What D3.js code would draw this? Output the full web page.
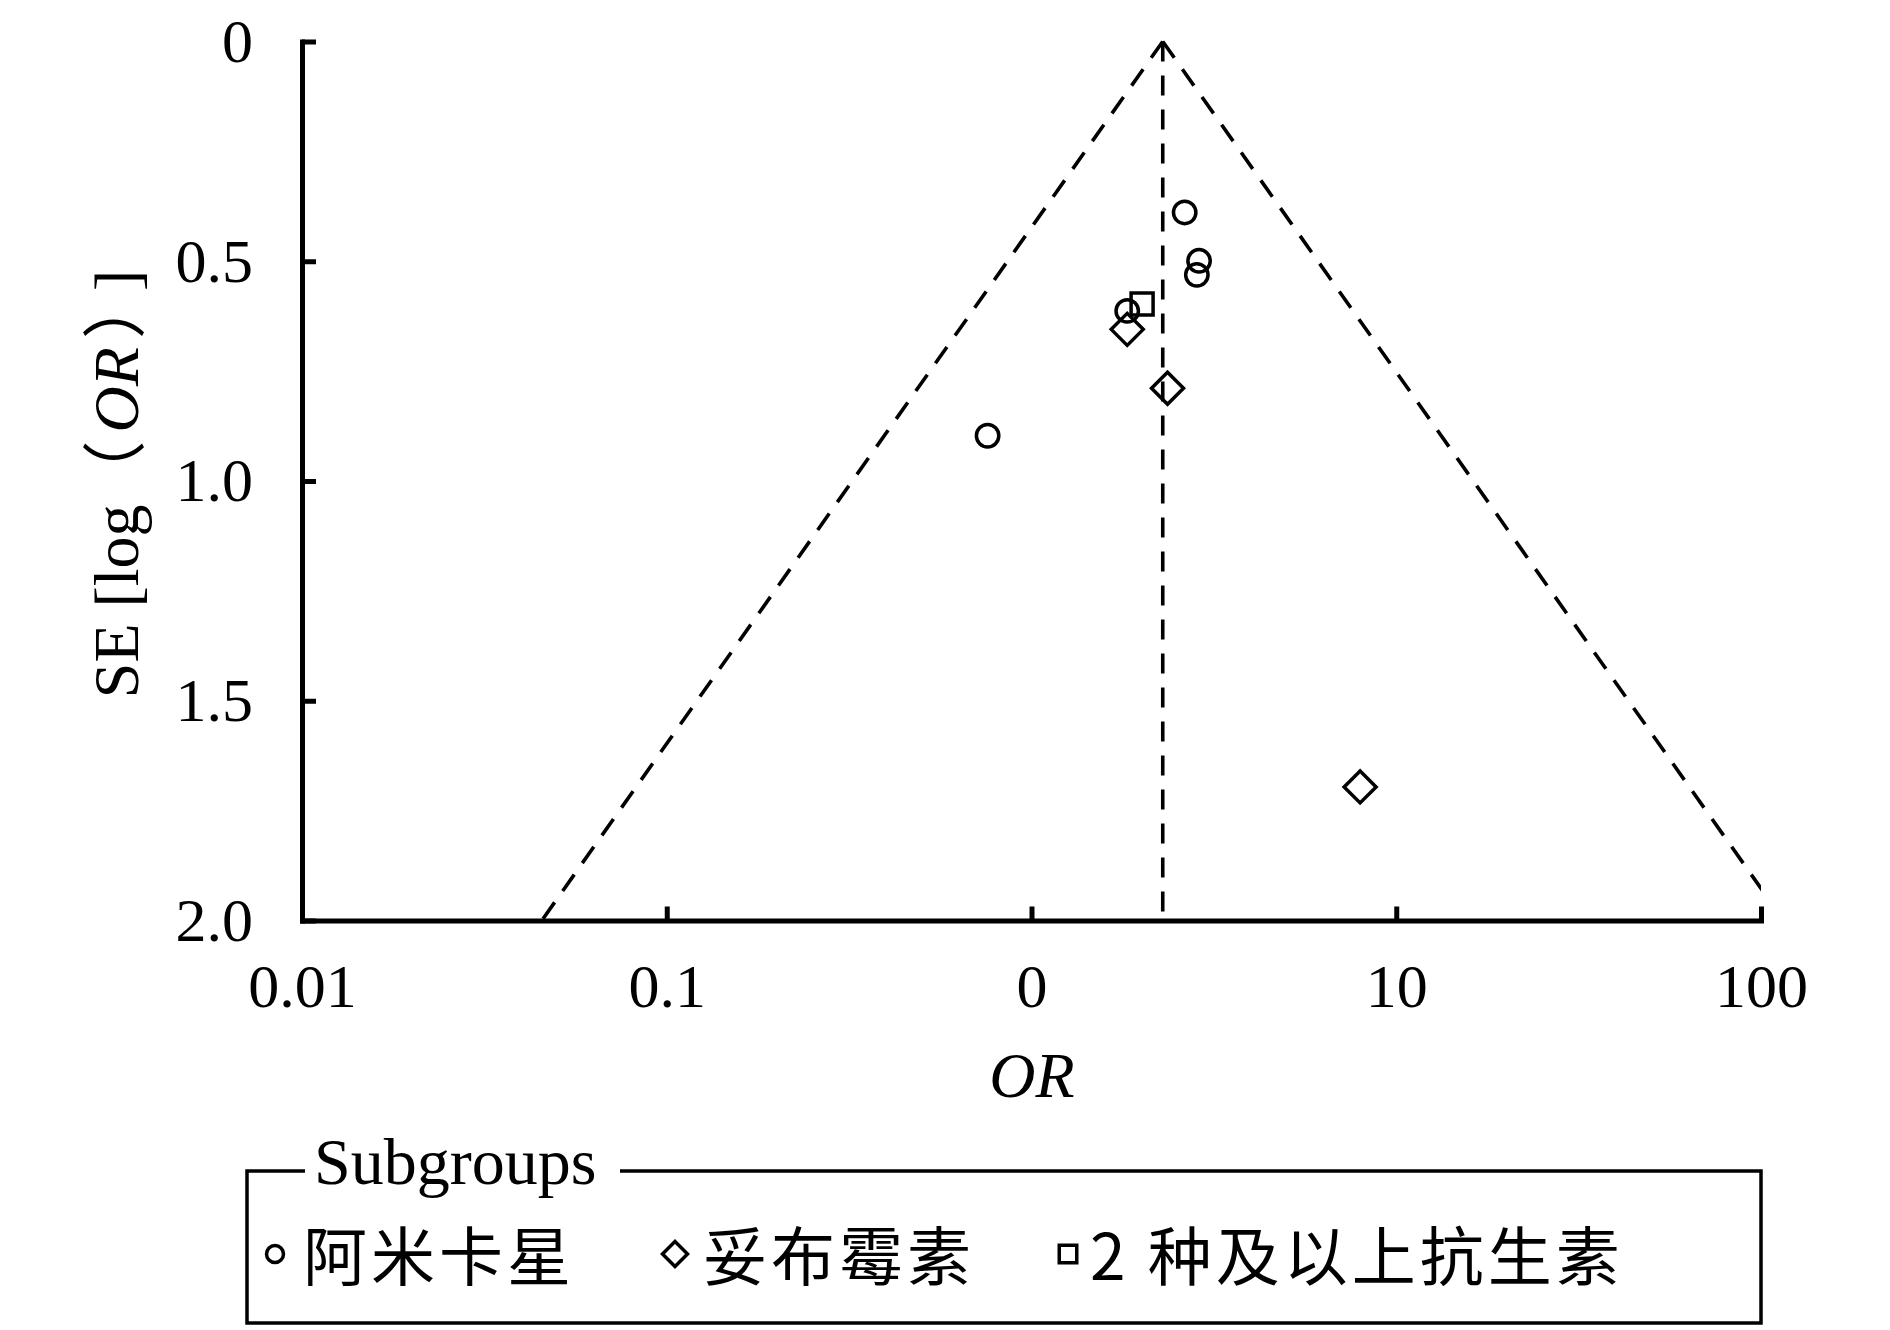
<!DOCTYPE html>
<html><head><meta charset="utf-8">
<script src="https://cdn.jsdelivr.net/npm/d3@7/dist/d3.min.js"></script>
<style>
html,body{margin:0;padding:0;background:#fff;}
svg{display:block;}
text{font-family:"Liberation Serif","Times New Roman",serif;fill:#000;}
.cjk{font-family:"Noto Sans CJK SC","Liberation Serif",serif;}
</style></head>
<body>
<script>
// ---- data ----
const xTickValues = [0.01, 0.1, 1, 10, 100];
const xTickLabels = ["0.01", "0.1", "0", "10", "100"];
const yTickValues = [0, 0.5, 1, 1.5, 2];
const yTickLabels = ["0", "0.5", "1.0", "1.5", "2.0"];
const pooledOR = 2.29;
const groupNames = ["阿米卡星", "妥布霉素", "2 种及以上抗生素"];
const amikacinOR = [2.63, 2.88, 2.84, 1.83, 0.758];
const amikacinSE = [0.389, 0.499, 0.531, 0.613, 0.897];
const tobramycinOR = [1.83, 2.36, 7.96];
const tobramycinSE = [0.655, 0.789, 1.696];
const comboOR = [2.01];
const comboSE = [0.597];

const W = 1890, H = 1330;
const svg = d3.select("body").append("svg").attr("width", W).attr("height", H);

const x = d3.scaleLog().domain([0.01, 100]).range([302, 1761]);
const y = d3.scaleLinear().domain([0, 2]).range([41.5, 920.5]);

// clip
svg.append("clipPath").attr("id", "plotclip").append("rect")
  .attr("x", x(0.01)).attr("y", y(0) - 10).attr("width", x(100) - x(0.01)).attr("height", y(2) - y(0) + 10);

const g = svg.append("g").attr("clip-path", "url(#plotclip)");
const z = 1.96 / Math.LN10; // log10 units per SE
const lineGen = d3.line().x(d => x(d[0])).y(d => y(d[1]));
const funnel = [
  [[pooledOR, 0], [pooledOR * Math.pow(10, -z * 2), 2]],
  [[pooledOR, 0], [pooledOR * Math.pow(10, z * 2), 2]],
  [[pooledOR, 0], [pooledOR, 2]]
];
g.selectAll("path.funnel").data(funnel).enter().append("path")
  .attr("class", "funnel")
  .attr("d", lineGen)
  .attr("fill", "none").attr("stroke", "#000").attr("stroke-width", 3.6)
  .attr("stroke-dasharray", "20,14");

// axes
const xAxis = d3.axisBottom(x).tickValues(xTickValues)
  .tickFormat((d, i) => xTickLabels[i]).tickSizeInner(-14).tickSizeOuter(0).tickPadding(42);
const gx = svg.append("g").attr("transform", `translate(0,${y(2)})`).call(xAxis);
const yAxis = d3.axisLeft(y).tickValues(yTickValues)
  .tickFormat((d, i) => yTickLabels[i]).tickSizeInner(-14).tickSizeOuter(0).tickPadding(49);
const gy = svg.append("g").attr("transform", `translate(${x(0.01)},0)`).call(yAxis);
[gx, gy].forEach(a => {
  a.select(".domain").attr("stroke-width", 5).attr("stroke", "#000").attr("stroke-linecap", "square");
  a.selectAll(".tick line").attr("stroke-width", 5).attr("stroke", "#000");
  a.selectAll(".tick text").attr("font-size", 62).attr("font-family", "Liberation Serif").attr("fill", "#000");
});

// axis titles
svg.append("text").attr("x", 1032).attr("y", 1097).attr("text-anchor", "middle")
  .attr("font-size", 64).attr("font-style", "italic").text("OR");
const yt = svg.append("text").attr("transform", "translate(138,484) rotate(-90)")
  .attr("text-anchor", "middle").attr("font-size", 64);
yt.append("tspan").text("SE [log");
yt.append("tspan").attr("class", "cjk").text("（");
yt.append("tspan").attr("font-style", "italic").attr("dx", 8).text("OR");
yt.append("tspan").attr("class", "cjk").attr("dx", 8).text("）");
yt.append("tspan").attr("dx", 16).text("]");

// markers
const circleGen = r => d3.symbol().type(d3.symbolCircle).size(Math.PI * r * r)();
function diamondPath(h) { return `M0,${-h}L${h},0L0,${h}L${-h},0Z`; }
function squarePath(s) { const a = s / 2; return `M${-a},${-a}H${a}V${a}H${-a}Z`; }

const pts = svg.append("g").attr("fill", "none").attr("stroke", "#000").attr("stroke-width", 3.5);
pts.selectAll("path.am").data(d3.zip(amikacinOR, amikacinSE)).enter().append("path")
  .attr("d", circleGen(11.2)).attr("transform", d => `translate(${x(d[0])},${y(d[1])})`);
pts.selectAll("path.tb").data(d3.zip(tobramycinOR, tobramycinSE)).enter().append("path")
  .attr("d", diamondPath(16)).attr("transform", d => `translate(${x(d[0])},${y(d[1])})`);
pts.selectAll("path.co").data(d3.zip(comboOR, comboSE)).enter().append("path")
  .attr("d", squarePath(22)).attr("transform", d => `translate(${x(d[0])},${y(d[1])})`);

// legend
const L = {x0: 247, x1: 1761, y0: 1171, y1: 1323};
const lg = svg.append("g");
lg.append("path").attr("fill", "none").attr("stroke", "#000").attr("stroke-width", 3.5)
  .attr("d", `M305,${L.y0}H${L.x0}V${L.y1}H${L.x1}V${L.y0}H620`);
lg.append("text").attr("x", 314).attr("y", 1184).attr("font-size", 66).text("Subgroups");
const legendItems = [
  {name: groupNames[0], mx: 275, tx: 303, shape: circleGen(8.5)},
  {name: groupNames[1], mx: 675, tx: 703, shape: diamondPath(12.5)},
  {name: groupNames[2], mx: 1068, tx: 1090, shape: squarePath(17.5)}
];
legendItems.forEach(it => {
  lg.append("path").attr("d", it.shape).attr("transform", `translate(${it.mx},1254)`)
    .attr("fill", "none").attr("stroke", "#000").attr("stroke-width", 3.5);
  const t = lg.append("text").attr("x", it.tx).attr("y", 1280).attr("font-size", 64)
    .attr("letter-spacing", 4).attr("class", "cjk");
  t.text(it.name);
});
</script>
</body></html>
